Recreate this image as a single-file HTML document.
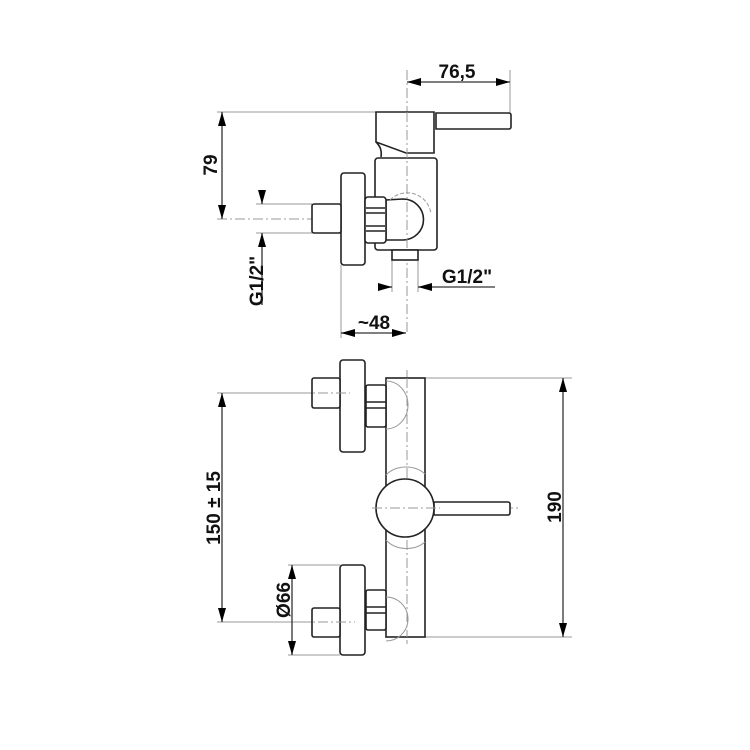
<!DOCTYPE html>
<html><head><meta charset="utf-8"><style>
html,body{margin:0;padding:0;background:#fff;}
svg{display:block;}
text{font-family:"Liberation Sans",Arial,sans-serif;font-size:19px;font-weight:bold;fill:#111;}
</style></head><body>
<svg width="750" height="750" viewBox="0 0 750 750" xmlns="http://www.w3.org/2000/svg">
<g fill="none" stroke="#999" stroke-width="1">
  <line x1="407" y1="70" x2="407" y2="335" stroke-dasharray="10,3,2,3"/>
  <line x1="510" y1="70" x2="510" y2="125"/>
  <line x1="217" y1="112" x2="376" y2="112"/>
  <line x1="217" y1="219" x2="425" y2="219" stroke-dasharray="10,3,2,3"/>
  <line x1="256" y1="204" x2="312" y2="204"/>
  <line x1="256" y1="233" x2="312" y2="233"/>
  <line x1="341" y1="265" x2="341" y2="338"/>
  <line x1="392" y1="260" x2="392" y2="292"/>
  <line x1="418" y1="260" x2="418" y2="292"/>
  <line x1="407" y1="370" x2="407" y2="644" stroke-dasharray="10,3,2,3"/>
  <line x1="425" y1="378" x2="572" y2="378"/>
  <line x1="425" y1="637" x2="572" y2="637"/>
  <line x1="217" y1="393" x2="350" y2="393"/>
  <line x1="217" y1="622" x2="355" y2="622"/>
  <line x1="288" y1="565" x2="340" y2="565"/>
  <line x1="288" y1="655" x2="340" y2="655"/>
  <line x1="372" y1="508" x2="518" y2="508" stroke-dasharray="10,3,2,3"/>
</g>
<g fill="none" stroke="#333" stroke-width="1.3">
  <line x1="407" y1="82" x2="510" y2="82"/>
  <line x1="222" y1="112" x2="222" y2="219"/>
  <line x1="262" y1="190" x2="262" y2="204"/>
  <line x1="262" y1="233" x2="262" y2="305"/>
  <line x1="378" y1="287" x2="392" y2="287"/>
  <line x1="418" y1="287" x2="495" y2="287"/>
  <line x1="341" y1="333" x2="406" y2="333"/>
  <line x1="563" y1="378" x2="563" y2="637"/>
  <line x1="222" y1="393" x2="222" y2="622"/>
  <line x1="292" y1="565" x2="292" y2="655"/>
</g>
<g fill="#000">
  <path d="M407,82 l14,-4 v8z"/><path d="M510,82 l-14,-4 v8z"/>
  <path d="M222,112 l-4,14 h8z"/><path d="M222,219 l-4,-14 h8z"/>
  <path d="M262,204 l-4,-14 h8z"/><path d="M262,233 l-4,14 h8z"/>
  <path d="M392,287 l-14,-4 v8z"/><path d="M418,287 l14,-4 v8z"/>
  <path d="M341,333 l14,-4 v8z"/><path d="M406,333 l-14,-4 v8z"/>
  <path d="M563,378 l-4,14 h8z"/><path d="M563,637 l-4,-14 h8z"/>
  <path d="M222,393 l-4,14 h8z"/><path d="M222,622 l-4,-14 h8z"/>
  <path d="M292,565 l-4,14 h8z"/><path d="M292,655 l-4,-14 h8z"/>
</g>
<g fill="#fff" stroke="#222" stroke-width="1.6">
  <rect x="375" y="158" width="62" height="92" rx="3"/>
  <path d="M376,142 C380,146 382,150 381,157"/>
  <path d="M436,113 H509 a2,2 0 0 1 2,2 V127 a2,2 0 0 1 -2,2 H436 Z"/>
  <path d="M376,112 H434 V153 H406 L376,142 Z"/>
  <rect x="392" y="250" width="26" height="10"/>
  <path d="M403,199 A20,20 0 1 1 403,240 L386,240 V200 Z"/>
  <rect x="341" y="173" width="24" height="92" rx="3"/>
  <rect x="312" y="204" width="29" height="29" rx="2"/>
  <rect x="365" y="197" width="21" height="46" rx="3"/>
  <line x1="366" y1="208" x2="385" y2="208"/>
  <line x1="366" y1="213" x2="385" y2="213"/>
  <line x1="366" y1="226" x2="385" y2="226"/>
  <line x1="366" y1="231" x2="385" y2="231"/>
  <rect x="386" y="378" width="39" height="259"/>
  <path d="M434,502 H508 a2,2 0 0 1 2,2 V513 a2,2 0 0 1 -2,2 H434 Z"/>
  <rect x="340" y="360" width="25" height="92" rx="3"/>
  <rect x="312" y="378" width="28" height="30" rx="2"/>
  <rect x="366" y="385" width="20" height="42" rx="2"/>
  <line x1="366" y1="402" x2="386" y2="402"/>
  <line x1="366" y1="408" x2="386" y2="408"/>
  <rect x="340" y="565" width="25" height="90" rx="3"/>
  <rect x="312" y="608" width="28" height="29" rx="2"/>
  <rect x="366" y="590" width="20" height="40" rx="2"/>
  <line x1="366" y1="607" x2="386" y2="607"/>
  <line x1="366" y1="613" x2="386" y2="613"/>
</g>
<g fill="none" stroke="#999" stroke-width="1">
  <path d="M386,381 A22,24 0 0 1 386,429"/>
  <path d="M386,597 A22,22 0 0 1 386,641"/>
  <path d="M386,475 A26,22 0 0 1 425,474"/>
  <path d="M386,540 A26,22 0 0 0 425,542"/>
  <path d="M390,200 A24,24 0 0 1 431,214" stroke-dasharray="4,2"/>
  <line x1="300" y1="393" x2="350" y2="393" stroke-dasharray="10,3,2,3"/>
  <line x1="300" y1="622" x2="355" y2="622" stroke-dasharray="10,3,2,3"/>
  <line x1="407" y1="378" x2="407" y2="637" stroke-dasharray="10,3,2,3"/>
  <line x1="407" y1="112" x2="407" y2="250" stroke-dasharray="10,3,2,3"/>
</g>
<circle cx="405" cy="508" r="29" fill="#fff" stroke="#222" stroke-width="1.6"/>
<line x1="372" y1="508" x2="440" y2="508" stroke="#999" stroke-dasharray="10,3,2,3"/>
<text x="457" y="78" text-anchor="middle">76,5</text>
<text x="467" y="283" text-anchor="middle">G1/2"</text>
<text x="374" y="329" text-anchor="middle">~48</text>
<text transform="translate(217,165) rotate(-90)" text-anchor="middle">79</text>
<text transform="translate(263,281) rotate(-90)" text-anchor="middle">G1/2"</text>
<text transform="translate(561,507) rotate(-90)" text-anchor="middle">190</text>
<text transform="translate(220,508) rotate(-90)" text-anchor="middle">150 ± 15</text>
<text transform="translate(290,600) rotate(-90)" text-anchor="middle">Ø66</text>
</svg>
</body></html>
